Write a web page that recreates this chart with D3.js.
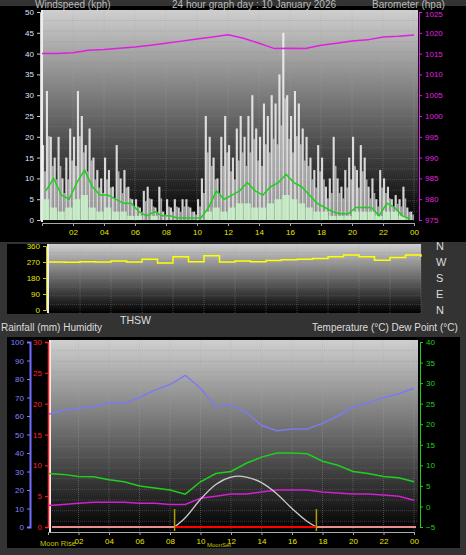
<!DOCTYPE html><html><head><meta charset="utf-8">
<script src="https://cdn.jsdelivr.net/npm/d3@7"></script>
<style>body{margin:0;background:#333}svg{display:block}text{font-family:"Liberation Sans",sans-serif}</style></head><body>
<svg id="c" width="466" height="555"></svg>
<script>
const gust=[18,31,20,15,20,10,15,22,20,31,25,18,22,15,12,10,15,12,8,18,10,12,8,5,5,3,7,8,5,3,8,2,5,3,5,3,5,5,3,2,5,10,25,20,15,10,20,25,18,15,22,25,20,25,30,22,20,28,25,30,28,35,45,30,25,31,28,22,20,15,12,18,15,8,10,20,10,8,12,15,20,12,18,15,8,10,5,12,10,8,5,6,5,8,3,2];
const windBars=[5,3,2,3,5,6,3,2,3,2,2,1,1,0,1,0,0,0,0,0,0,2,3,2,3,4,4,3,3,4,5,6,5,4,3,2,2,1,1,1,2,2,2,1,2,2,1,0];
const windAvg=[7,10,6,5,9,12,8,6,6,5,4,4,2,1,2,1,1,0.5,0.5,0.5,0.5,3,7,5,6,7,9,7,6,8,9,11,9,8,6,4,3,2,1.5,1.5,3,3,3,1,4,3,1,0.3];
const baro=[1015,1015,1015.2,1015.8,1016,1016.3,1016.6,1017,1017.5,1018,1018.5,1019,1019.5,1018.7,1017.5,1016.2,1016.3,1016.2,1017,1017.5,1018,1018.3,1019,1019.2,1019.5];
const windDir=[270,268,272,270,275,270,285,265,300,272,305,270,275,272,278,282,285,290,300,310,300,280,295,310,300];
const humidity=[61,63,64,65,67,67,70,74,77,82,75,65,66,62,55,52,53,53,56,60,65,67,70,72,75];
const temp=[8,7.8,7.3,7.2,6.5,6,5,4.5,4,3,6,8,8.5,10.5,12,13,13,12.8,11,10,8.5,8,7.3,7,6];
const dew=[0.2,0.5,0.8,1,1,1,0.8,0.8,0.5,0.5,2,2.5,3,3,3.5,4,4,4,3.5,3.3,3,3,2.8,2.5,1.5];
const sunHours=[8.3,9,10,11,12,12.5,13,14,15,16,17,17.6];
const sunVals=[0,5,15,23,27,27.5,27,24,18,10,3,0];
const sunEvents=[8.3,17.6];
const hourTicks=[2,4,6,8,10,12,14,16,18,20,22,24];
const fmtH=h=>String(h%24).padStart(2,"0");
const svg=d3.select("#c");
const defs=svg.append("defs");
const g=defs.append("linearGradient").attr("id","bg").attr("x1",0).attr("x2",0).attr("y1",0).attr("y2",1);
g.append("stop").attr("offset",0).attr("stop-color","#cfcfcf");
g.append("stop").attr("offset",1).attr("stop-color","#000");
function plotBg(x0,x1,y0,y1,xs,nLines){
  svg.append("rect").attr("x",x0).attr("y",y0).attr("width",x1-x0).attr("height",y1-y0).attr("fill","url(#bg)");
  for(let i=1;i<nLines;i++){const y=y0+(y1-y0)*i/nLines;svg.append("line").attr("x1",x0).attr("x2",x1).attr("y1",y).attr("y2",y).attr("stroke","#888").attr("stroke-opacity",0.35).attr("stroke-dasharray","1,1");}
  hourTicks.forEach(h=>svg.append("line").attr("x1",xs(h)).attr("x2",xs(h)).attr("y1",y0).attr("y2",y1).attr("stroke","#aaa").attr("stroke-opacity",0.35).attr("stroke-dasharray","1,1"));
  svg.append("line").attr("x1",x0).attr("x2",x0).attr("y1",y0).attr("y2",y1).attr("stroke","#eee").attr("stroke-width",2);
}
// Panel 1
svg.append("rect").attr("x",0).attr("y",0).attr("width",466).attr("height",242).attr("fill","#000");
svg.append("rect").attr("x",0).attr("y",0).attr("width",466).attr("height",6).attr("fill","#333");
const x1=d3.scaleLinear().domain([0,24]).range([42,414]);
const yW=d3.scaleLinear().domain([0,50]).range([220,12]);
const yB=d3.scaleLinear().domain([975,1025]).range([220,12]);
plotBg(42,418,10,222,x1,20);
const st=0.25;
svg.append("g").selectAll("rect").data(gust).join("rect").attr("x",(d,i)=>x1(i*st)).attr("width",(x1(st)-x1(0))*0.55).attr("y",d=>yW(d)).attr("height",d=>yW(0)-yW(d)).attr("fill","#f4f4f4").attr("opacity",0.85);
svg.append("g").selectAll("rect").data(gust).join("rect").attr("x",(d,i)=>x1(i*st)+(x1(st)-x1(0))*0.55).attr("width",(x1(st)-x1(0))*0.45).attr("y",d=>yW(d*0.65)).attr("height",d=>yW(0)-yW(d*0.65)).attr("fill","#dcdcdc").attr("opacity",0.7);
svg.append("g").selectAll("rect").data(windBars).join("rect").attr("x",(d,i)=>x1(i*0.5)).attr("width",x1(0.5)-x1(0)-0.5).attr("y",d=>yW(d)).attr("height",d=>yW(0)-yW(d)).attr("fill","#c8f0c8").attr("opacity",0.9);
svg.append("path").datum(windAvg).attr("d",d3.line().x((d,i)=>x1(i*0.5+0.25)).y(d=>yW(d))).attr("fill","none").attr("stroke","#1ed01e").attr("stroke-width",1.5);
svg.append("path").datum(baro).attr("d",d3.line().x((d,i)=>x1(i)).y(d=>yB(d))).attr("fill","none").attr("stroke","#e020e0").attr("stroke-width",1.5);
const aL=svg.append("g").attr("transform","translate(40,0)").call(d3.axisLeft(yW).tickValues(d3.range(0,51,5)).tickSize(3));
aL.selectAll("text").attr("fill","#dde4ff").attr("font-size",8);aL.selectAll("line,path").attr("stroke","#ccc");
const aR=svg.append("g").attr("transform","translate(419,0)").call(d3.axisRight(yB).tickValues(d3.range(975,1026,5)).tickFormat(d3.format("d")).tickSize(3));
aR.selectAll("text").attr("fill","#e020e0").attr("font-size",8);aR.selectAll("line,path").attr("stroke","#e020e0");
aR.selectAll("text").filter(d=>d===1025).attr("dy","0.55em");
const aX=svg.append("g").attr("transform","translate(0,223)").call(d3.axisBottom(x1).tickValues(hourTicks).tickFormat(fmtH).tickSize(3));
aX.selectAll("text").attr("fill","#e6e600").attr("font-size",8);aX.selectAll("line,path").attr("stroke","#aaa");
[["Windspeed (kph)",35],["24 hour graph day : 10 January 2026",172],["Barometer (hpa)",372]].forEach(t=>svg.append("text").attr("x",t[1]).attr("y",8).attr("fill","#bbb").attr("font-size",10).text(t[0]));
// Panel 2
svg.append("rect").attr("x",7).attr("y",244).attr("width",41).attr("height",70).attr("fill","#000");
const x2=d3.scaleLinear().domain([0,24]).range([49,421]);
const yD=d3.scaleLinear().domain([0,360]).range([310,246]);
plotBg(48,421,244,313,x2,8);
svg.append("path").datum(windDir).attr("d",d3.line().x((d,i)=>x2(i)).y(d=>yD(d)).curve(d3.curveStepAfter)).attr("fill","none").attr("stroke","#ffff00").attr("stroke-width",1.5);
const aD=svg.append("g").attr("transform","translate(46,0)").call(d3.axisLeft(yD).tickValues([0,90,180,270,360]).tickSize(3));
aD.selectAll("text").attr("fill","#e6e600").attr("font-size",8);aD.selectAll("line,path").attr("stroke","#cc0");
["N","W","S","E","N"].forEach((c,i)=>svg.append("text").attr("x",436).attr("y",yD(360-i*90)+4).attr("fill","#ddd").attr("font-size",11).text(c));
svg.append("text").attr("x",120).attr("y",324).attr("fill","#ddd").attr("font-size",10.5).text("THSW");
[["Rainfall (mm)  Humidity",1],["Temperature (°C) Dew Point (°C)",312]].forEach(t=>svg.append("text").attr("x",t[1]).attr("y",331).attr("fill","#ddd").attr("font-size",10).text(t[0]));
// Panel 3
svg.append("rect").attr("x",7).attr("y",337).attr("width",453).attr("height",211).attr("fill","#000");
const x3=d3.scaleLinear().domain([0,24]).range([48,414]);
const yH=d3.scaleLinear().domain([0,100]).range([527,342]);
const yR=d3.scaleLinear().domain([0,30]).range([527,342]);
const yT=d3.scaleLinear().domain([-5,40]).range([527,342]);
plotBg(50,418,340,532,x3,18);
svg.append("path").datum(humidity).attr("d",d3.line().x((d,i)=>x3(i)).y(d=>yH(d))).attr("fill","none").attr("stroke","#7b7bf0").attr("stroke-width",1.5);
svg.append("path").datum(temp).attr("d",d3.line().x((d,i)=>x3(i)).y(d=>yT(d))).attr("fill","none").attr("stroke","#1ed01e").attr("stroke-width",1.5);
svg.append("path").datum(dew).attr("d",d3.line().x((d,i)=>x3(i)).y(d=>yT(d))).attr("fill","none").attr("stroke","#d020d0").attr("stroke-width",1.5);
svg.append("path").datum(sunHours.map((h,i)=>[h,sunVals[i]])).attr("d",d3.line().x(d=>x3(d[0])).y(d=>yH(d[1])).curve(d3.curveMonotoneX)).attr("fill","none").attr("stroke","#ccc").attr("stroke-width",1.3);
svg.append("line").attr("x1",x3(0)+4).attr("x2",x3(24)+2).attr("y1",yR(0)).attr("y2",yR(0)).attr("stroke","#e89090").attr("stroke-width",2);
svg.append("line").attr("x1",x3(sunEvents[0])).attr("x2",x3(sunEvents[1])).attr("y1",yR(0)).attr("y2",yR(0)).attr("stroke","#ff0000").attr("stroke-width",2);
sunEvents.forEach(h=>svg.append("line").attr("x1",x3(h)).attr("x2",x3(h)).attr("y1",yR(0)-18).attr("y2",yR(0)+4).attr("stroke","#b0a000").attr("stroke-width",1.5));
const aH=svg.append("g").attr("transform","translate(30,0)").call(d3.axisLeft(yH).tickValues(d3.range(0,101,10)).tickSize(3));
aH.selectAll("text").attr("fill","#8080ff").attr("font-size",8);aH.selectAll("line").attr("stroke","#8080ff");aH.select("path").attr("stroke","#7070ff").attr("stroke-width",2);
const aRn=svg.append("g").attr("transform","translate(48,0)").call(d3.axisLeft(yR).tickValues(d3.range(0,31,5)).tickSize(3));
aRn.selectAll("text").attr("fill","#ff2020").attr("font-size",8);aRn.selectAll("line").attr("stroke","#ff2020");aRn.select("path").attr("stroke","#ff2020").attr("stroke-width",1.5);
const aT=svg.append("g").attr("transform","translate(420,0)").call(d3.axisRight(yT).tickValues(d3.range(-5,41,5)).tickSize(3));
aT.selectAll("text").attr("fill","#1ed01e").attr("font-size",8);aT.selectAll("line,path").attr("stroke","#1ed01e");
const aX3=svg.append("g").attr("transform","translate(0,532)").call(d3.axisBottom(x3).tickValues(hourTicks).tickFormat(fmtH).tickSize(3));
aX3.selectAll("text").attr("fill","#e6e600").attr("font-size",8);aX3.selectAll("line,path").attr("stroke","#aaa");
svg.append("text").attr("x",40).attr("y",546).attr("fill","#c8c800").attr("font-size",7.5).text("Moon Rise");
svg.append("text").attr("x",207).attr("y",547).attr("fill","#c8c800").attr("font-size",6).text("MoonSet");
</script></body></html>
